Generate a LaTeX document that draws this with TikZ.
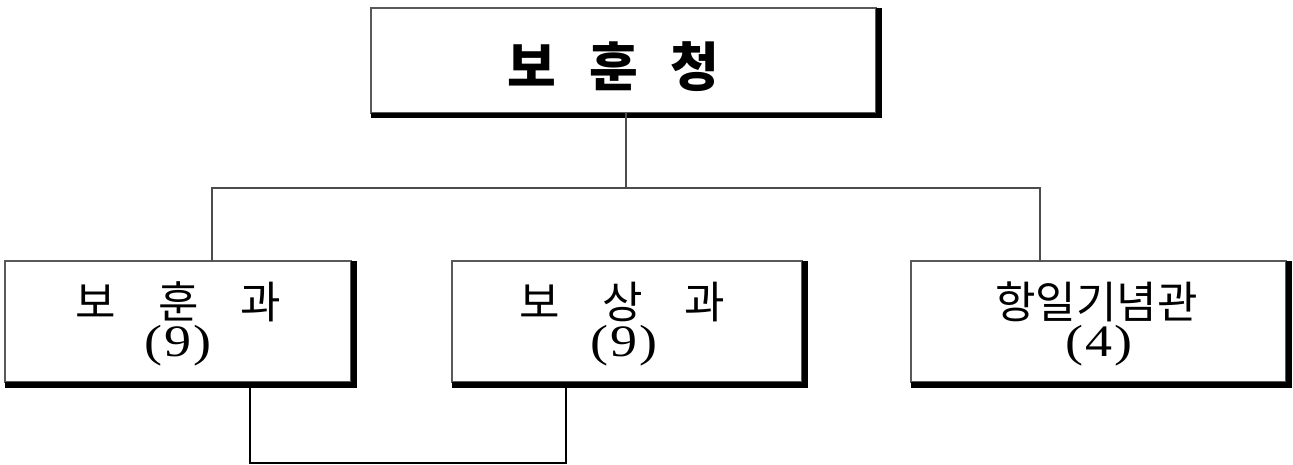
\documentclass[tikz,border=0pt]{standalone}
\usepackage{fontspec}
\usetikzlibrary{calc}
\newfontfamily\kr{Noto Sans CJK KR}
\newfontfamily\nf{Liberation Serif}[FakeStretch=1.2]
\tikzset{
  box/.style={draw=black!65, line width=1.2pt, fill=white, inner sep=0pt, outer sep=0pt},
  txt/.style={inner sep=0pt, outer sep=0pt, anchor=center},
  conn/.style={draw=black!70, line width=1.2pt},
  link/.style={draw=black, line width=2.4pt},
  shadowfill/.style={fill=black}
}
\newcommand\boxshadow[1]{%
  \fill[shadowfill] (#1.north east) rectangle ($(#1.south east)+(5.5,5.5)$);
  \fill[shadowfill] (#1.south west) rectangle ($(#1.south east)+(5.5,5.5)$);}
\begin{document}
\begin{tikzpicture}[x=1pt, y=-1pt]
\useasboundingbox (0,0) rectangle (1293,465);
% boxes
\node[box, minimum width=505pt, minimum height=105pt] (top) at (623.5,60.5) {};
\node[box, minimum width=346pt, minimum height=121pt] (b1) at (178,321.5) {};
\node[box, minimum width=350pt, minimum height=121pt] (b2) at (627,321.5) {};
\node[box, minimum width=375pt, minimum height=121pt] (b3) at (1098.5,321.5) {};
\boxshadow{top}
\boxshadow{b1}
\boxshadow{b2}
\boxshadow{b3}
% texts
\node[txt, font=\kr\bfseries\fontsize{53}{53}\selectfont] (t0) at (613.5,66.5) {보\hspace{33pt}훈\hspace{33pt}청};
\node[txt, font=\kr\fontsize{44}{44}\selectfont] (t1a) at (178.5,302) {보\hspace{42pt}훈\hspace{42pt}과};
\node[txt, font=\nf\fontsize{45}{45}\selectfont] (t1b) at (178,345.5) {(\hspace{2pt}9\hspace{2pt})};
\node[txt, font=\kr\fontsize{44}{44}\selectfont] (t2a) at (622.5,302) {보\hspace{42pt}상\hspace{42pt}과};
\node[txt, font=\nf\fontsize{45}{45}\selectfont] (t2b) at (624,345.5) {(\hspace{2pt}9\hspace{2pt})};
\node[txt, font=\kr\fontsize{44}{44}\selectfont] (t3a) at (1096.5,302) {항일기념관};
\node[txt, font=\nf\fontsize{45}{45}\selectfont] (t3b) at (1098.5,345.5) {(\hspace{2pt}4\hspace{2pt})};
% connector tree
\coordinate (j0) at (626,188);
\coordinate (jl) at (212,188);
\coordinate (jr) at (1040,188);
\draw[conn] (j0 |- top.south) -- (j0);
\draw[conn] (jl |- b1.north) -- (jl) -- (jr) -- (jr |- b3.north);
% bottom link
\coordinate (u1) at (250,463);
\coordinate (u2) at (566,463);
\draw[link] (u1 |- b1.south) -- (u1) -- (u2) -- (u2 |- b2.south);
\end{tikzpicture}
\end{document}
